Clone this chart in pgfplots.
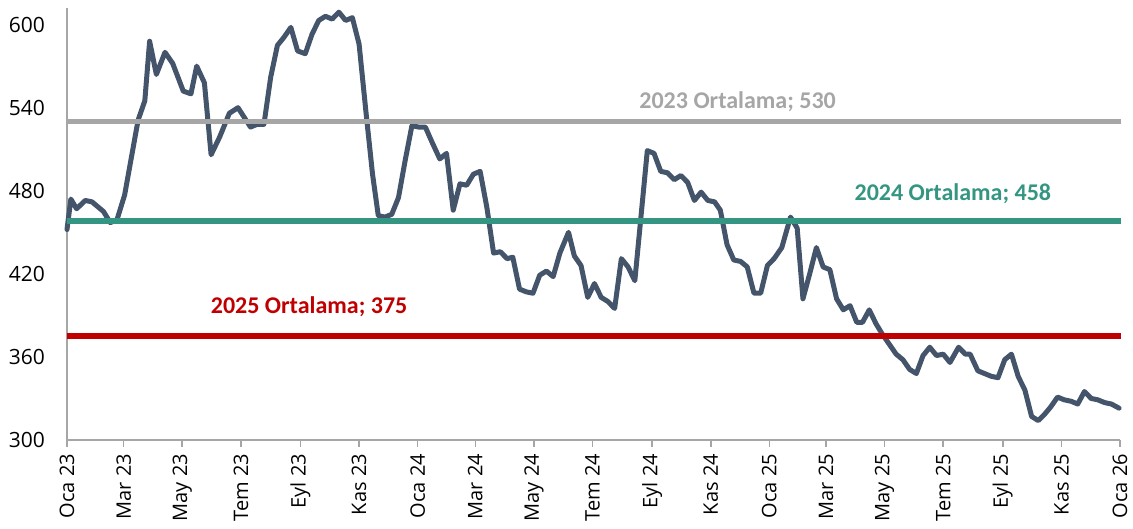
\documentclass[border=0pt]{standalone}
\usepackage{fontspec}
\setmainfont{Carlito}
\newfontfamily\tickfont{Open Sans}
\usepackage{pgfplots}
\usepackage{pgfplotstable}
\pgfplotsset{compat=1.18}
\definecolor{linec}{HTML}{44546A}
\definecolor{avggray}{HTML}{A6A6A6}
\definecolor{avgteal}{HTML}{349682}
\definecolor{avgred}{HTML}{C00000}
\definecolor{axisgray}{HTML}{A6A6A6}

\pgfplotstableread{
day val
0 452
4 474
10 467
19 473
26 472
38 465
45 457
52 459
60 477
67 504
74 531
81 545
86 588
93 564
102 580
110 572
121 552
129 550
135 570
143 558
150 506
159 519
169 536
178 540
191 526
198 528
205 528
212 562
219 585
226 591
233 598
240 581
248 579
255 593
262 603
269 606
276 604
283 609
290 603
297 605
304 586
311 538
318 492
324 462
331 461
338 463
345 475
352 502
359 527
366 526
373 526
380 515
388 503
395 507
402 466
409 485
416 484
423 492
430 494
437 468
444 435
451 436
458 431
464 432
471 409
478 407
485 406
492 419
499 422
506 418
513 435
522 450
528 433
535 426
542 403
549 413
556 403
563 400
570 395
577 431
584 425
591 415
604 509
611 507
618 494
625 493
632 488
639 491
646 486
653 473
660 479
667 473
674 472
680 466
687 441
694 430
701 429
708 425
715 406
722 406
729 426
736 431
744 439
753 461
760 453
766 402
773 420
780 439
787 425
794 423
801 402
808 394
815 397
822 385
828 385
835 394
842 384
849 376
856 369
863 362
870 358
877 351
884 348
891 361
898 367
905 361
912 362
919 356
928 367
935 362
940 362
948 350
955 348
962 346
969 345
976 358
983 362
990 346
997 336
1004 317
1011 314
1018 319
1024 324
1031 331
1038 329
1045 328
1052 326
1059 335
1066 330
1073 329
1080 327
1087 326
1095 323
}\pricedata

\begin{document}
\begin{tikzpicture}
\begin{axis}[
  scale only axis,
  width=526.5pt, height=216pt,
  xmin=0, xmax=1096, ymin=300, ymax=612,
  axis x line*=bottom, axis y line*=left,
  axis line style={axisgray, line width=0.8pt},
  xtick={0,59,120,181,243,304,365,425,486,547,609,670,731,790,851,912,974,1035,1096},
  xticklabels={Oca 23,Mar 23,May 23,Tem 23,Eyl 23,Kas 23,Oca 24,Mar 24,May 24,Tem 24,Eyl 24,Kas 24,Oca 25,Mar 25,May 25,Tem 25,Eyl 25,Kas 25,Oca 26},
  xticklabel style={rotate=90, anchor=east, inner ysep=1pt, font=\tickfont\fontsize{10}{12}\selectfont, text=black},
  ytick={300,360,420,480,540,600},
  yticklabel style={font=\tickfont\fontsize{10.5}{12}\selectfont, xshift=-4pt, text=black},
  /pgf/number format/assume math mode=true,
  x tick style={axisgray, line width=0.8pt},
  y tick style={draw=none},
  major tick length=3.5pt,
  tick align=outside,
  clip=false,
]
\addplot[linec, line width=2.5pt, line join=round, line cap=round] table[x=day, y=val] {\pricedata};
\addplot[avggray, line width=2.6pt] coordinates {(0,530) (1097,530)};
\addplot[avgteal, line width=2.8pt] coordinates {(0,458) (1097,458)};
\addplot[avgred, line width=2.8pt] coordinates {(0,375) (1097,375)};
\node[font=\fontsize{12}{14}\selectfont\bfseries, text=avggray] at (axis cs:698,544.5) {2023 Ortalama; 530};
\node[font=\fontsize{12}{14}\selectfont\bfseries, text=avgteal] at (axis cs:922,478) {2024 Ortalama; 458};
\node[font=\fontsize{12}{14}\selectfont\bfseries, text=avgred] at (axis cs:252,396.6) {2025 Ortalama; 375};
\end{axis}
\pgfresetboundingbox
\path ([xshift=-33.5pt,yshift=-44.5pt]current axis.south west) rectangle ([xshift=6.5pt,yshift=4pt]current axis.north east);
\end{tikzpicture}
\end{document}
